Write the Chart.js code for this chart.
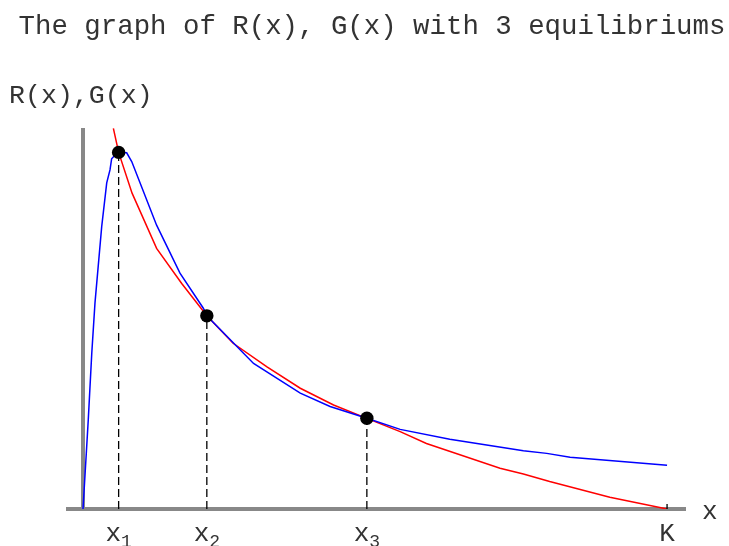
<!DOCTYPE html>
<html>
<head>
<meta charset="utf-8">
<script src="https://cdn.jsdelivr.net/npm/chart.js@4/dist/chart.umd.min.js"></script>
<style>
  html, body { margin: 0; padding: 0; background: #ffffff; }
  #wrap { width: 729px; height: 546px; }
</style>
</head>
<body>
<div id="wrap"><canvas id="c" width="729" height="546"></canvas></div>
<script>
// ---- data ----
const titleText = 'The graph of R(x), G(x) with 3 equilibriums';
const yAxisLabel = 'R(x),G(x)';
const xAxisLabel = 'x';

// R(x) — red curve
const rX = [5.2, 6.1, 8.4, 12.6, 16.9, 21.2, 25.7, 31.5, 37.2, 42.9, 48.6, 54.3, 58.8, 71.4, 75.4, 79.9, 90.2, 100];
const rY = [99.9, 93.6, 82.9, 68.4, 59.2, 50.7, 43.5, 37.3, 31.7, 27.3, 23.8, 20.3, 17.2, 10.7, 9.2, 7.2, 3.1, 0];

// G(x) — blue curve
const gX = [0, 0.9, 1.5, 2.05, 3.2, 4.06, 4.62, 4.9, 5.48, 6.1, 7.48, 8.34, 12.6, 16.6, 20.6, 21.2, 29.2, 37.2, 42.3, 48.6, 54.3, 62.8, 75.4, 79.4, 83.4, 100];
const gY = [0, 23.4, 40.9, 54.1, 74.1, 85.6, 89.0, 91.9, 92.9, 93.6, 93.5, 91.2, 74.5, 61.9, 52.7, 50.7, 38.2, 30.4, 26.9, 23.8, 20.9, 18.3, 15.3, 14.6, 13.6, 11.5];

// equilibriums
const eqX = [6.1, 21.2, 48.6];
const eqY = [93.6, 50.7, 23.8];

// carrying capacity
const kX = 100;
const kMarkY = 1.3;

// tick labels
const tickValues = [6.1, 21.2, 48.6, 100];
const tickMain = ['x', 'x', 'x', 'K'];
const tickSub = ['1', '2', '3', ''];

// ---- build datasets ----
const redPts = rX.map((x, i) => ({ x: x, y: rY[i] }));
const bluePts = gX.map((x, i) => ({ x: x, y: gY[i] }));
const dotPts = eqX.map((x, i) => ({ x: x, y: eqY[i] }));
const dashPts = [];
eqX.forEach((x, i) => {
  dashPts.push({ x: x, y: 0 }, { x: x, y: eqY[i] }, { x: x, y: null });
});
dashPts.push({ x: kX, y: 0 }, { x: kX, y: kMarkY });

const FONT = "'Liberation Mono', 'DejaVu Sans Mono', monospace";
const TEXT = '#333333';
const AXIS = '#888888';

const textPlugin = {
  id: 'texts',
  afterDraw(chart) {
    const ctx = chart.ctx;
    const xs = chart.scales.x;
    ctx.save();
    ctx.fillStyle = TEXT;
    ctx.textBaseline = 'alphabetic';
    // title
    ctx.font = '27.4px ' + FONT;
    ctx.textAlign = 'center';
    ctx.fillText(titleText, 372, 34);
    // y label
    ctx.font = '26.6px ' + FONT;
    ctx.textAlign = 'left';
    ctx.fillText(yAxisLabel, 9, 103);
    // x label
    ctx.font = '26px ' + FONT;
    ctx.fillText(xAxisLabel, 702, 519);
    // tick labels with subscripts
    tickValues.forEach((v, i) => {
      const px = xs.getPixelForValue(v);
      ctx.font = '26px ' + FONT;
      const wMain = ctx.measureText(tickMain[i]).width;
      ctx.font = '18px ' + FONT;
      const wSub = tickSub[i] ? ctx.measureText(tickSub[i]).width : 0;
      const start = px - (wMain + wSub) / 2;
      ctx.textAlign = 'left';
      ctx.font = '26px ' + FONT;
      ctx.fillText(tickMain[i], start, 541);
      if (tickSub[i]) {
        ctx.font = '18px ' + FONT;
        ctx.fillText(tickSub[i], start + wMain, 547);
      }
    });
    ctx.restore();
  }
};

new Chart(document.getElementById('c'), {
  type: 'line',
  data: {
    datasets: [
      {
        label: 'equilibriums',
        type: 'scatter',
        data: dotPts,
        pointRadius: 6.7,
        pointHoverRadius: 6.7,
        pointBackgroundColor: '#000000',
        pointBorderColor: '#000000',
        pointBorderWidth: 0,
        showLine: false,
        order: 0
      },
      {
        label: 'guides',
        data: dashPts,
        borderColor: '#000000',
        borderWidth: 1.3,
        borderDash: [8, 4],
        pointRadius: 0,
        spanGaps: false,
        fill: false,
        order: 1
      },
      {
        label: 'G(x)',
        data: bluePts,
        borderColor: '#0000ff',
        borderWidth: 1.5,
        pointRadius: 0,
        tension: 0,
        fill: false,
        order: 2
      },
      {
        label: 'R(x)',
        data: redPts,
        borderColor: '#ff0000',
        borderWidth: 1.5,
        pointRadius: 0,
        tension: 0,
        fill: false,
        order: 3
      }
    ]
  },
  options: {
    responsive: false,
    animation: false,
    events: [],
    layout: { padding: { left: 68, right: 45, top: 128, bottom: 37 } },
    plugins: {
      legend: { display: false },
      title: { display: false },
      tooltip: { enabled: false }
    },
    scales: {
      x: {
        type: 'linear',
        min: -2.57,
        max: 102.9,
        afterBuildTicks(scale) {
          scale.ticks = [{ value: 0 }];
        },
        afterFit(scale) { scale.height = 0; },
        ticks: { display: false },
        grid: {
          drawTicks: false,
          color: AXIS,
          lineWidth: 4
        },
        border: { display: true, color: AXIS, width: 4 }
      },
      y: {
        type: 'linear',
        min: 0,
        max: 100,
        afterFit(scale) { scale.width = 0; },
        ticks: { display: false },
        grid: { display: false, drawTicks: false },
        border: { display: false }
      }
    }
  },
  plugins: [textPlugin]
});
</script>
</body>
</html>
